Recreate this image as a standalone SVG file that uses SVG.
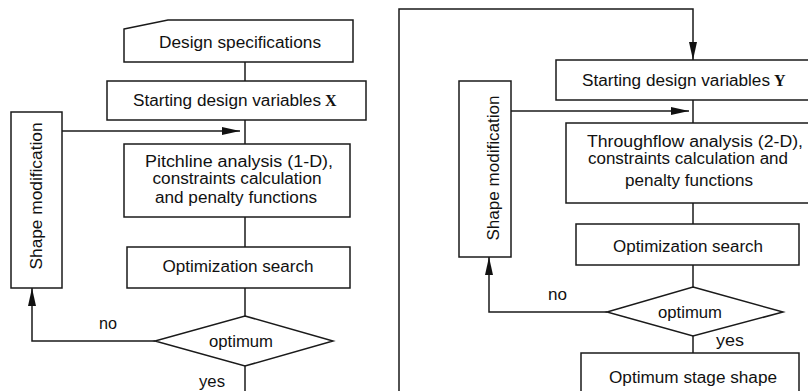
<svg xmlns="http://www.w3.org/2000/svg" width="808" height="391" viewBox="0 0 808 391">
<defs>
<style>
.b{fill:#fff;stroke:#1a1a1a;stroke-width:1.5}
.c{fill:none;stroke:#1a1a1a;stroke-width:1.5}
.t{font-family:"Liberation Sans",Arial,sans-serif;font-size:16px;fill:#111;text-anchor:middle}
.tl{font-family:"Liberation Sans",Arial,sans-serif;font-size:16px;fill:#111}
.s{font-family:"Liberation Serif","Times New Roman",serif;font-weight:bold}
</style>
<marker id="ah" viewBox="0 0 18 8" refX="18" refY="4" markerWidth="18" markerHeight="8" markerUnits="userSpaceOnUse" orient="auto">
<path d="M0,0 L18,4 L0,8 Z" fill="#111"/>
</marker>
</defs>
<rect width="808" height="391" fill="#fff"/>
<g id="connectors">
<line class="c" x1="245" y1="62" x2="245" y2="81"/>
<line class="c" x1="245" y1="120" x2="245" y2="144"/>
<line class="c" x1="62" y1="131" x2="240" y2="131" marker-end="url(#ah)"/>
<line class="c" x1="245" y1="217" x2="245" y2="247"/>
<line class="c" x1="245" y1="288" x2="245" y2="316"/>
<line class="c" x1="245" y1="366" x2="245" y2="391"/>
<polyline class="c" points="155,341 32,341 32,288" stroke-width="2" marker-end="url(#ah)"/>
<polyline class="c" points="399,391 399,9 693,9 693,60" stroke-width="2" marker-end="url(#ah)"/>
<line class="c" x1="693" y1="100" x2="693" y2="123"/>
<line class="c" x1="511" y1="111" x2="689" y2="111" marker-end="url(#ah)"/>
<line class="c" x1="693" y1="203" x2="693" y2="224"/>
<line class="c" x1="693" y1="265" x2="693" y2="287"/>
<line class="c" x1="693" y1="336" x2="693" y2="353"/>
<polyline class="c" points="607,312 489,312 489,257" stroke-width="2" marker-end="url(#ah)"/>
<text class="tl" x="99" y="329" textLength="18" lengthAdjust="spacingAndGlyphs">no</text>
<text class="tl" x="199" y="387" textLength="26" lengthAdjust="spacingAndGlyphs">yes</text>
<text class="tl" x="548" y="300" textLength="19" lengthAdjust="spacingAndGlyphs">no</text>
<text class="tl" x="716" y="346" textLength="28" lengthAdjust="spacingAndGlyphs">yes</text>
</g>
<g id="design-spec">
<path class="b" d="M124,29 L168,20 L353,20 L353,62 L124,62 Z"/>
<text class="t" x="240" y="48" textLength="162" lengthAdjust="spacingAndGlyphs">Design specifications</text>
</g>
<g id="start-x">
<rect class="b" x="107" y="81" width="259" height="39"/>
<text class="tl" x="133" y="106"><tspan textLength="188" lengthAdjust="spacingAndGlyphs">Starting design variables</tspan><tspan class="s" x="325" y="106">X</tspan></text>
</g>
<g id="pitchline">
<rect class="b" x="124" y="144" width="226" height="73"/>
<text class="t" x="239" y="167" textLength="188" lengthAdjust="spacingAndGlyphs">Pitchline analysis (1-D),</text>
<text class="t" x="237" y="184" textLength="169" lengthAdjust="spacingAndGlyphs">constraints calculation</text>
<text class="t" x="236" y="203" textLength="162" lengthAdjust="spacingAndGlyphs">and penalty functions</text>
</g>
<g id="opt-search-1">
<rect class="b" x="127" y="247" width="223" height="41"/>
<text class="t" x="238" y="272" textLength="151" lengthAdjust="spacingAndGlyphs">Optimization search</text>
</g>
<g id="optimum-1">
<polygon class="b" points="245,316 333,341 245,366 155,341"/>
<text class="t" x="241" y="347" textLength="64" lengthAdjust="spacingAndGlyphs">optimum</text>
</g>
<g id="shape-mod-1">
<rect class="b" x="11" y="112" width="51" height="176"/>
<text class="t" transform="translate(42,196) rotate(-90)" textLength="147" lengthAdjust="spacingAndGlyphs">Shape modification</text>
</g>
<g id="start-y">
<rect class="b" x="556" y="60" width="262" height="40"/>
<text class="tl" x="582" y="86"><tspan textLength="188" lengthAdjust="spacingAndGlyphs">Starting design variables</tspan><tspan class="s" x="774" y="86">Y</tspan></text>
</g>
<g id="throughflow">
<rect class="b" x="566" y="123" width="252" height="80"/>
<text class="t" x="695" y="147" textLength="216" lengthAdjust="spacingAndGlyphs">Throughflow analysis (2-D),</text>
<text class="t" x="688" y="164" textLength="200" lengthAdjust="spacingAndGlyphs">constraints calculation and</text>
<text class="t" x="689" y="186" textLength="128" lengthAdjust="spacingAndGlyphs">penalty functions</text>
</g>
<g id="opt-search-2">
<rect class="b" x="576" y="224" width="223" height="41"/>
<text class="t" x="688" y="252" textLength="150" lengthAdjust="spacingAndGlyphs">Optimization search</text>
</g>
<g id="optimum-2">
<polygon class="b" points="693,287 783,312 693,336 607,312"/>
<text class="t" x="690" y="318" textLength="64" lengthAdjust="spacingAndGlyphs">optimum</text>
</g>
<g id="shape-mod-2">
<rect class="b" x="459" y="81" width="52" height="176"/>
<text class="t" transform="translate(499,168) rotate(-90)" textLength="145" lengthAdjust="spacingAndGlyphs">Shape modification</text>
</g>
<g id="optimum-stage">
<rect class="b" x="581" y="353" width="218" height="50"/>
<text class="t" x="693" y="383" textLength="168" lengthAdjust="spacingAndGlyphs">Optimum stage shape</text>
</g>
</svg>
